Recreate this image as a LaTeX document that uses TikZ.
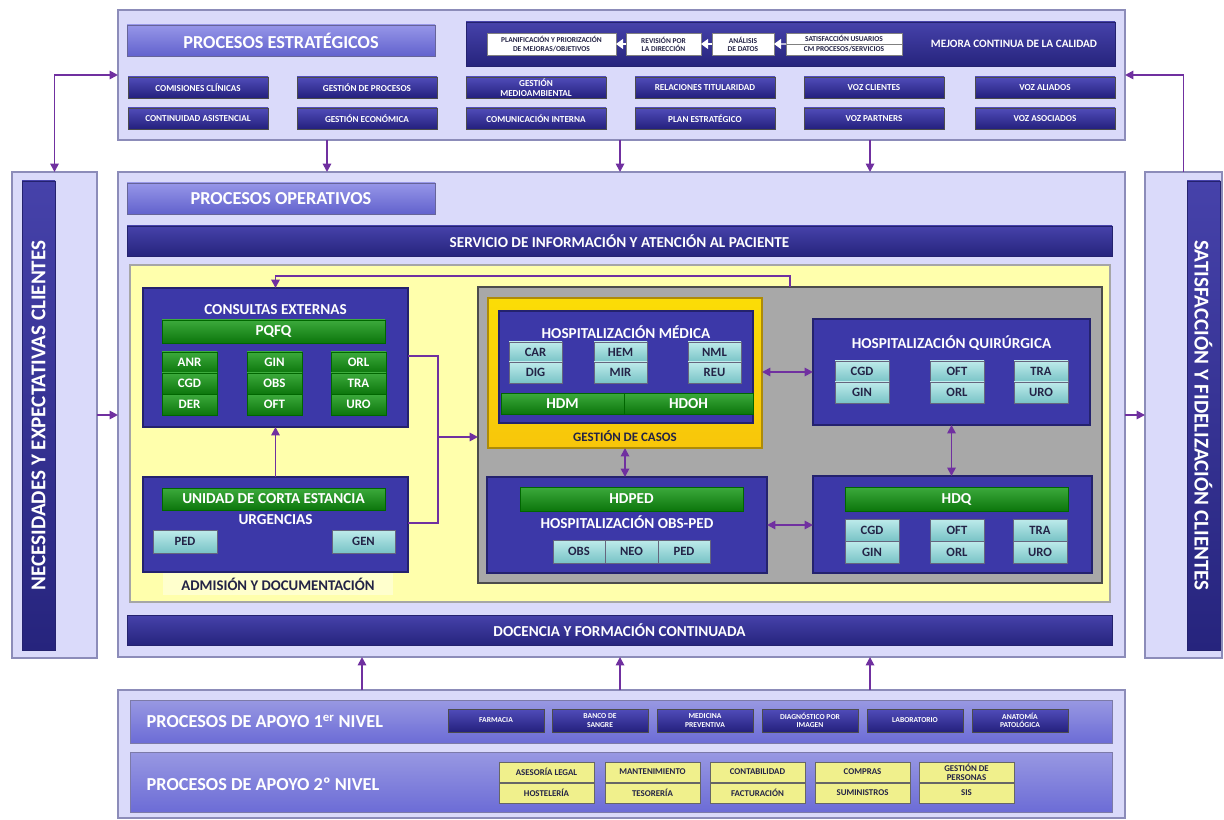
\documentclass[tikz,border=0pt]{standalone}
\usepackage{fontspec}
\setmainfont{Carlito}
\usetikzlibrary{arrows.meta}
\definecolor{Lavanda}{RGB}{218, 218, 250}
\definecolor{LavandaBorde}{RGB}{140, 140, 185}
\definecolor{CabClaro}{RGB}{150, 150, 232}
\definecolor{CabOsc}{RGB}{98, 98, 205}
\definecolor{BarraClaro}{RGB}{70, 66, 170}
\definecolor{BarraOsc}{RGB}{38, 36, 125}
\definecolor{BotonClaro}{RGB}{80, 76, 185}
\definecolor{BotonOsc}{RGB}{36, 32, 125}
\definecolor{AzulCaja}{RGB}{60, 56, 168}
\definecolor{AzulBorde}{RGB}{36, 34, 110}
\definecolor{VerdeClaro}{RGB}{60, 170, 60}
\definecolor{VerdeOsc}{RGB}{12, 118, 12}
\definecolor{CianClaro}{RGB}{190, 235, 235}
\definecolor{CianOsc}{RGB}{120, 195, 198}
\definecolor{TextoOsc}{RGB}{35, 35, 70}
\definecolor{AmarilloFondo}{RGB}{255, 255, 172}
\definecolor{AmarilloBoton}{RGB}{240, 240, 140}
\definecolor{GrisZona}{RGB}{168, 168, 168}
\definecolor{Dorado}{RGB}{248, 198, 10}
\definecolor{ApoyoBarra}{RGB}{108, 108, 214}
\definecolor{Morado}{RGB}{112, 48, 160}

% caja: nombre, estilo, x1, y1, x2, y2, texto (en pixeles)
\newcommand{\caja}[7]{%
  \node[#2, minimum width={(#5-#3)*0.025cm}, minimum height={(#6-#4)*0.025cm}]
    (#1) at ({(#3+#5)/2},{(#4+#6)/2}) {#7};}

\begin{document}
\begin{tikzpicture}[x=0.025cm, y=-0.025cm,
    bloque/.style={rectangle, inner sep=0.5pt, outer sep=0pt, align=center, font=\bfseries},
    fondo/.style={bloque, fill=Lavanda, draw=LavandaBorde, line width=1pt},
    cabecera/.style={bloque, top color=CabClaro, bottom color=CabOsc, draw=AzulBorde!70,
        text=white, font=\bfseries\fontsize{13}{14}\selectfont},
    barra/.style={bloque, top color=BarraClaro, bottom color=BarraOsc, draw=AzulBorde,
        text=white, font=\bfseries\fontsize{10.8}{11}\selectfont},
    boton/.style={bloque, top color=BotonClaro, bottom color=BotonOsc, draw=black!70,
        text=white, font=\bfseries\fontsize{6.5}{6.8}\selectfont},
    blanco/.style={bloque, fill=white, draw=gray, text=TextoOsc,
        font=\bfseries\fontsize{5.3}{5.8}\selectfont},
    azul/.style={bloque, fill=AzulCaja, draw=AzulBorde, line width=1.5pt},
    titulo/.style={bloque, text=white, font=\bfseries\fontsize{10.8}{11}\selectfont},
    verde/.style={bloque, top color=VerdeClaro, bottom color=VerdeOsc, draw=black!60!green,
        text=white, font=\bfseries\fontsize{10.8}{11}\selectfont},
    verdeb/.style={verde, font=\bfseries\fontsize{9.2}{10}\selectfont},
    cian/.style={bloque, top color=CianClaro, bottom color=CianOsc, draw=TextoOsc!70,
        text=TextoOsc, font=\bfseries\fontsize{9}{10}\selectfont},
    amarillo/.style={bloque, fill=AmarilloBoton, draw=gray!80!black, text=TextoOsc,
        font=\bfseries\fontsize{6.3}{6.6}\selectfont},
    botonap/.style={boton, font=\bfseries\fontsize{5.4}{5.8}\selectfont},
    apoyo/.style={bloque, top color=ApoyoBarra!70!white, bottom color=ApoyoBarra, draw=AzulBorde!60},
    textoapoyo/.style={bloque, text=white, anchor=west, font=\bfseries\fontsize{13}{14}\selectfont},
    vertical/.style={bloque, text=white, font=\bfseries\fontsize{15}{16}\selectfont},
    etiqueta/.style={bloque, text=TextoOsc, font=\bfseries\fontsize{10.5}{11}\selectfont},
    flecha/.style={draw=Morado, line width=1.3pt, -{Triangle[length=6pt,width=6pt]}},
    dflecha/.style={flecha, {Triangle[length=6pt,width=6pt]}-{Triangle[length=6pt,width=6pt]}},
    flechab/.style={draw=white, line width=1pt, -{Triangle[length=5pt,width=7pt]}},
    linea/.style={draw=Morado, line width=1.2pt}]
    \useasboundingbox (0,0) rectangle (1224,820);

    % Procesos estrategicos
    \caja{estr}{fondo}{118}{10}{1125}{140}{}
    \caja{hestr}{cabecera}{127}{25}{435}{56}{PROCESOS ESTRATÉGICOS}
    \caja{mejora}{barra}{466}{22}{1115}{66}{}
    \node[bloque, text=white, font=\bfseries\fontsize{8}{8.5}\selectfont] (tmejora) at (1014,44)
        {MEJORA CONTINUA DE LA CALIDAD};
    \caja{plan}{blanco}{487}{33}{616}{55}{PLANIFICACIÓN Y PRIORIZACIÓN\\DE MEJORAS/OBJETIVOS}
    \caja{revis}{blanco}{626}{33}{701}{55}{REVISIÓN POR\\LA DIRECCIÓN}
    \caja{anal}{blanco}{712}{33}{774}{55}{ANÁLISIS\\DE DATOS}
    \caja{satu}{blanco}{786}{33}{902}{44}{SATISFACCIÓN USUARIOS}
    \caja{satp}{blanco}{786}{44}{902}{55}{CM PROCESOS/SERVICIOS}
    \draw[flechab] (revis.west) -- (plan.east);
    \draw[flechab] (anal.west) -- (revis.east);
    \draw[flechab] (satu.south west) -- (anal.east);
    \foreach \xa/\ta/\tb [count=\i] in {128/COMISIONES CLÍNICAS/CONTINUIDAD ASISTENCIAL,
        297/GESTIÓN DE PROCESOS/GESTIÓN ECONÓMICA,
        466/{GESTIÓN\\MEDIOAMBIENTAL}/COMUNICACIÓN INTERNA,
        635/RELACIONES TITULARIDAD/PLAN ESTRATÉGICO,
        804/VOZ CLIENTES/VOZ PARTNERS,
        975/VOZ ALIADOS/VOZ ASOCIADOS} {
        \caja{ea\i}{boton}{\xa}{77}{\xa+140}{98}{\ta}
        \caja{eb\i}{boton}{\xa}{108}{\xa+140}{129}{\tb}
    }

    % Columnas laterales
    \caja{necs}{fondo}{12}{172}{97}{658}{}
    \caja{necsbar}{barra}{22}{181}{55}{650}{}
    \node[vertical, rotate=90] (tnecs) at (necsbar) {NECESIDADES Y EXPECTATIVAS CLIENTES};
    \caja{satis}{fondo}{1145}{172}{1222}{658}{}
    \caja{satisbar}{barra}{1187}{181}{1220}{650}{}
    \node[vertical, rotate=-90] (tsatis) at (satisbar) {SATISFACCIÓN Y FIDELIZACIÓN CLIENTES};

    % Procesos operativos
    \caja{oper}{fondo}{118}{172}{1125}{657}{}
    \caja{hoper}{cabecera}{127}{183}{435}{214}{PROCESOS OPERATIVOS}
    \caja{siap}{barra}{127}{226}{1112}{256}{SERVICIO DE INFORMACIÓN Y ATENCIÓN AL PACIENTE}
    \caja{amarilla}{bloque, fill=AmarilloFondo, draw=gray!70, line width=1pt}{130}{265}{1110}{602}{}
    \caja{docencia}{barra}{127}{615}{1112}{645}{DOCENCIA Y FORMACIÓN CONTINUADA}

    % Consultas externas
    \caja{cext}{azul}{143}{288}{408}{427}{}
    \node[titulo] (tcext) at (cext.north |- 0,310) {CONSULTAS EXTERNAS};
    \caja{pqfq}{verde}{162}{320}{385}{343}{PQFQ}
    \foreach \xa/\ta/\tb/\tc [count=\i] in {162/ANR/CGD/DER, 247/GIN/OBS/OFT, 331/ORL/TRA/URO} {
        \caja{ce\i a}{verdeb}{\xa}{352}{\xa+55}{373}{\ta}
        \caja{ce\i b}{verdeb}{\xa}{373}{\xa+55}{394}{\tb}
        \caja{ce\i c}{verdeb}{\xa}{394}{\xa+55}{415}{\tc}
    }

    % Urgencias
    \caja{urg}{azul}{143}{477}{408}{572}{}
    \caja{uce}{verde}{162}{488}{385}{510}{UNIDAD DE CORTA ESTANCIA}
    \node[titulo] (turg) at (urg.north |- 0,520) {URGENCIAS};
    \caja{uped}{cian}{153}{530}{217}{553}{PED}
    \caja{ugen}{cian}{332}{530}{395}{553}{GEN}
    \caja{admision}{etiqueta, fill=AmarilloFondo!60!white}{163}{573}{393}{595}{ADMISIÓN Y DOCUMENTACIÓN}

    % Hospitalizacion
    \caja{gris}{bloque, fill=GrisZona, draw=gray!60!black, line width=1pt}{478}{287}{1102}{583}{}
    \caja{hmed}{bloque, top color=Dorado!60!yellow, bottom color=Dorado, draw=Dorado!70!black,
        line width=1pt}{488}{298}{762}{448}{}
    \caja{hmedin}{azul}{499}{311}{753}{423}{}
    \node[titulo] (thmed) at (hmedin.north |- 0,332) {HOSPITALIZACIÓN MÉDICA};
    \foreach \xa/\ta/\tb [count=\i] in {509/CAR/DIG, 594/HEM/MIR, 688/NML/REU} {
        \caja{hm\i a}{cian}{\xa}{342}{\xa+53}{362}{\ta}
        \caja{hm\i b}{cian}{\xa}{362}{\xa+53}{383}{\tb}
    }
    \caja{hdm}{verde}{501}{393}{624}{414}{HDM}
    \caja{hdoh}{verde}{624}{393}{753}{414}{HDOH}
    \node[etiqueta, font=\bfseries\fontsize{9.2}{10}\selectfont] (tcasos) at (hmed.south |- 0,436)
        {GESTIÓN DE CASOS};

    \caja{hquir}{azul}{813}{319}{1090}{425}{}
    \node[titulo] (thquir) at (hquir.north |- 0,343) {HOSPITALIZACIÓN QUIRÚRGICA};
    \foreach \xa/\ta/\tb [count=\i] in {835/CGD/GIN, 930/OFT/ORL, 1014/TRA/URO} {
        \caja{hq\i a}{cian}{\xa}{361}{\xa+54}{382}{\ta}
        \caja{hq\i b}{cian}{\xa}{382}{\xa+54}{403}{\tb}
    }

    \caja{hped}{azul}{487}{477}{767}{573}{}
    \caja{hdped}{verde}{520}{487}{743}{511}{HDPED}
    \node[titulo] (thped) at (hped.north |- 0,522) {HOSPITALIZACIÓN OBS-PED};
    \caja{pobs}{cian}{553}{540}{605}{563}{OBS}
    \caja{pneo}{cian}{605}{540}{658}{563}{NEO}
    \caja{pped}{cian}{658}{540}{710}{563}{PED}

    \caja{hdq}{azul}{813}{476}{1092}{573}{}
    \caja{hdqv}{verde}{845}{487}{1068}{511}{HDQ}
    \foreach \xa/\ta/\tb [count=\i] in {845/CGD/GIN, 930/OFT/ORL, 1013/TRA/URO} {
        \caja{hd\i a}{cian}{\xa}{519}{\xa+54}{541}{\ta}
        \caja{hd\i b}{cian}{\xa}{541}{\xa+54}{563}{\tb}
    }

    % Procesos de apoyo
    \caja{apoyo}{fondo}{118}{690}{1125}{818}{}
    \caja{apoyo1}{apoyo}{130}{700}{1112}{743}{}
    \node[textoapoyo] (tap1) at (146,721) {PROCESOS DE APOYO 1\textsuperscript{er} NIVEL};
    \foreach \xa/\ta [count=\i] in {448/FARMACIA, 552/{BANCO DE\\SANGRE}, 657/{MEDICINA\\PREVENTIVA},
        762/{DIAGNÓSTICO POR\\IMAGEN}, 867/LABORATORIO, 972/{ANATOMÍA\\PATOLÓGICA}}
        \caja{ap\i}{botonap}{\xa}{709}{\xa+96}{732}{\ta};
    \caja{apoyo2}{apoyo}{130}{752}{1112}{812}{}
    \node[textoapoyo] (tap2) at (146,784) {PROCESOS DE APOYO 2º NIVEL};
    \foreach \xa/\ta/\tb [count=\i] in {499/ASESORÍA LEGAL/HOSTELERÍA, 605/MANTENIMIENTO/TESORERÍA,
        710/CONTABILIDAD/FACTURACIÓN, 815/COMPRAS/SUMINISTROS, 919/{GESTIÓN DE\\PERSONAS}/SIS} {
        \caja{aq\i a}{amarillo}{\xa}{762}{\xa+95}{782}{\ta}
        \caja{aq\i b}{amarillo}{\xa}{783}{\xa+95}{803}{\tb}
    }

    % Conexiones
    \draw[dflecha] (necs.north) |- (estr.west |- 0,75);
    \draw[flecha] (satis.north) |- (estr.east |- 0,75);
    \draw[flecha] (necs.east) -- (oper.west |- necs.east);
    \draw[flecha] (oper.east |- satis.west) -- (satis.west);
    \foreach \x in {327,620,870}
        \draw[flecha] (estr.south -| \x,0) -- (oper.north -| \x,0);
    \foreach \x in {362,620,870}
        \draw[flecha] (apoyo.north -| \x,0) -- (oper.south -| \x,0);
    \draw[flecha] (urg.north) -- (cext.south);
    \draw[flecha] (gris.north -| 790,0) -- ++(0,-11) -| (cext.north);
    \coordinate (union) at (438,437);
    \draw[linea] (cext.east |- 0,356) -| (union) |- (urg.east |- 0,523);
    \draw[flecha] (union) -- (gris.west |- union);
    \draw[dflecha] (hmed.east |- hquir.west) -- (hquir.west);
    \draw[dflecha] (hmed.south) -- (hped.north -| hmed.south);
    \draw[dflecha] (hquir.south) -- (hdq.north -| hquir.south);
    \draw[dflecha] (hped.east) -- (hdq.west |- hped.east);
\end{tikzpicture}
\end{document}
